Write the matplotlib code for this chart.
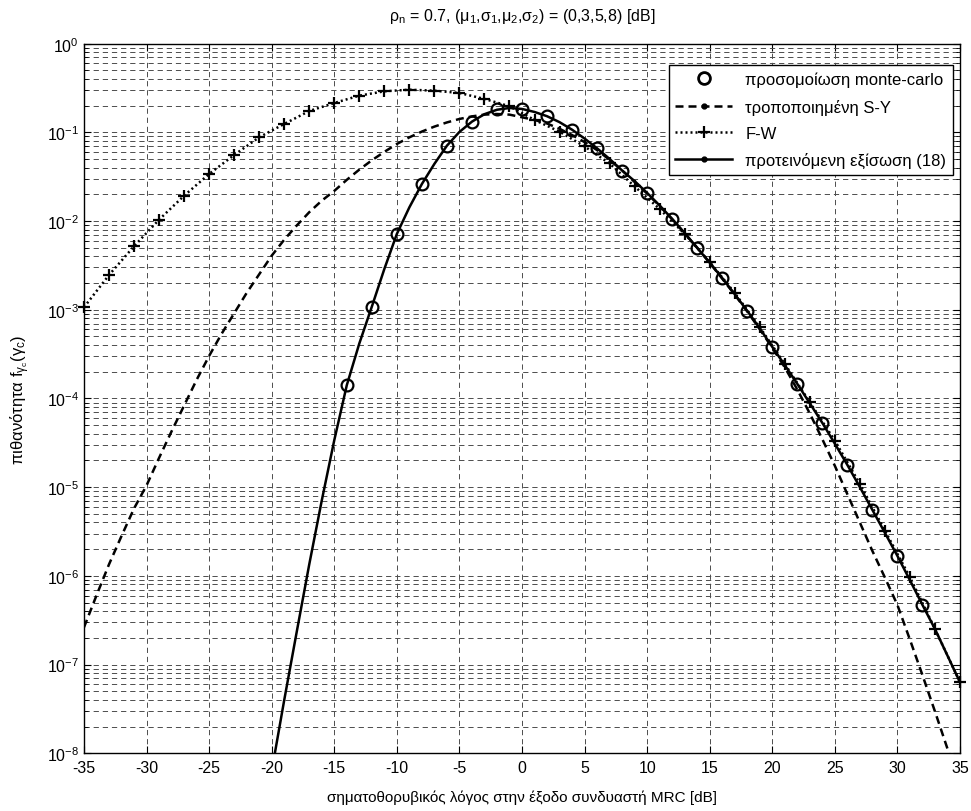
import numpy as np
import matplotlib
matplotlib.use('Agg')
import matplotlib.pyplot as plt
from matplotlib.lines import Line2D

plt.rcParams['font.family'] = ['Liberation Sans', 'DejaVu Sans']
plt.rcParams['mathtext.fontset'] = 'custom'
plt.rcParams['mathtext.rm'] = 'Liberation Sans'
plt.rcParams['mathtext.it'] = 'Liberation Sans'
plt.rcParams['mathtext.bf'] = 'Liberation Sans:bold'
plt.rcParams['axes.unicode_minus'] = False

# values, as log10 of the pdf
mc_snr = [-14, -12, -10, -8, -6, -4, -2, 0, 2, 4, 6, 8, 10, 12, 14, 16,
          18, 20, 22, 24, 26, 28, 30, 32]
mc_log = [-3.85, -2.965, -2.145, -1.582, -1.15, -0.879, -0.736, -0.736,
          -0.818, -0.97, -1.18, -1.43, -1.683, -1.976, -2.303, -2.643,
          -3.013, -3.419, -3.836, -4.276, -4.75, -5.257, -5.776, -6.328]

sy_snr = list(range(-35, 36))
sy_log = [-6.58, -6.22, -5.87, -5.55, -5.24, -4.98, -4.67, -4.37, -4.08,
          -3.79, -3.52, -3.27, -3.04, -2.81, -2.60, -2.39, -2.21, -2.05,
          -1.90, -1.77, -1.66, -1.535, -1.42, -1.315, -1.22, -1.131,
          -1.056, -0.991, -0.935, -0.888, -0.849, -0.82, -0.80, -0.793,
          -0.80, -0.83, -0.86, -0.90, -0.96, -1.03, -1.11, -1.20, -1.31,
          -1.43, -1.56, -1.69, -1.83, -1.98, -2.14, -2.30, -2.47, -2.65,
          -2.83, -3.02, -3.22, -3.43, -3.65, -3.90, -4.17, -4.46, -4.76,
          -5.08, -5.40, -5.72, -6.02, -6.33, -6.72, -7.12, -7.53, -7.95,
          -8.38]

fw_snr = list(range(-35, 36, 2))
fw_log = [-2.972, -2.608, -2.284, -1.984, -1.714, -1.469, -1.255, -1.055,
          -0.905, -0.759, -0.669, -0.586, -0.537, -0.519, -0.530, -0.556,
          -0.623, -0.706, -0.860, -0.992, -1.159, -1.351, -1.61, -1.864,
          -2.145, -2.461, -2.811, -3.197, -3.611, -4.043, -4.476, -4.964,
          -5.490, -6.016, -6.599, -7.2]

pr_snr = list(range(-20, 36))
pr_log = [-8.2, -7.40, -6.63, -5.87, -5.15, -4.47, -3.85, -3.38, -2.965,
          -2.54, -2.145, -1.845, -1.582, -1.355, -1.15, -0.995, -0.879,
          -0.795, -0.745, -0.725, -0.736, -0.77, -0.818, -0.885, -0.97,
          -1.07, -1.18, -1.30, -1.43, -1.55, -1.683, -1.825, -1.976, -2.135,
          -2.303, -2.47, -2.643, -2.825, -3.013, -3.21, -3.419, -3.625,
          -3.836, -4.055, -4.276, -4.51, -4.75, -5.0, -5.257, -5.515,
          -5.776, -6.05, -6.328, -6.6, -6.9, -7.2]

labels = ['προσομοίωση monte-carlo', 'τροποποιημένη S-Y', 'F-W',
          'προτεινόμενη εξίσωση (18)']

fig = plt.figure(figsize=(9.71, 8.12), dpi=100)
ax = fig.add_axes([0.0865, 0.0711, 0.9022, 0.8739])

lw = 1.8
dash = (0, (3.2, 2.0))
dot = (0, (0.8, 1.2))

ax.plot(sy_snr, 10 ** np.array(sy_log), color='k', lw=lw, linestyle=dash)
fw_line, = ax.plot(fw_snr, 10 ** np.array(fw_log), color='k', lw=lw,
                   linestyle=dot, marker='+', ms=9, mew=1.6)
fw_line.set_clip_on(False)
ax.plot(pr_snr, 10 ** np.array(pr_log), color='k', lw=lw, linestyle='-')
ax.plot(mc_snr, 10 ** np.array(mc_log), color='k', linestyle='none',
        marker='o', ms=8.5, mfc='none', mew=1.6)

ax.set_yscale('log')
ax.set_xlim(-35, 35)
ax.set_ylim(1e-8, 1)
ax.set_xticks(np.arange(-35, 36, 5))
ax.tick_params(which='both', direction='in', top=True, right=True,
               labelsize=11.5, colors='k')
ax.tick_params(which='major', length=5)
ax.tick_params(which='minor', length=3)
ax.tick_params(axis='x', pad=5)

grid_ls = (0, (5.4, 4.0))
ax.grid(True, which='major', axis='both', color='0.3', lw=0.7, linestyle=grid_ls)
ax.grid(True, which='minor', axis='y', color='0.3', lw=0.7, linestyle=grid_ls)
ax.set_axisbelow(True)
for s in ax.spines.values():
    s.set_linewidth(1.0)

ax.set_title(r'ρ$_\mathregular{n}$ = 0.7, (μ$_\mathregular{1}$,σ$_\mathregular{1}$,'
             r'μ$_\mathregular{2}$,σ$_\mathregular{2}$) = (0,3,5,8) [dB]',
             fontsize=11.5, pad=17)
ax.set_xlabel('σηματοθορυβικός λόγος στην έξοδο συνδυαστή MRC [dB]',
              fontsize=11, labelpad=10)
ax.set_ylabel(r'πιθανότητα f$_{\gamma_\mathregular{c}}$($\gamma_\mathregular{c}$)',
              fontsize=12, labelpad=11)

handles = [
    Line2D([], [], color='k', linestyle='none', marker='o', ms=8.5,
           mfc='none', mew=2),
    Line2D([], [], color='k', lw=lw, linestyle=dash, marker='.', ms=7),
    Line2D([], [], color='k', lw=lw, linestyle=dot, marker='+', ms=9, mew=1.6),
    Line2D([], [], color='k', lw=lw, linestyle='-', marker='.', ms=7),
]
leg = ax.legend(handles, labels, loc='upper right', fontsize=12,
                frameon=True, fancybox=False, edgecolor='k', framealpha=1,
                handlelength=3.4, labelspacing=0.68, borderaxespad=0,
                bbox_to_anchor=(953 / 971, 1 - 66 / 812),
                bbox_transform=fig.transFigure)
leg.get_frame().set_linewidth(1.0)

fig.savefig('out.png', dpi=100)
